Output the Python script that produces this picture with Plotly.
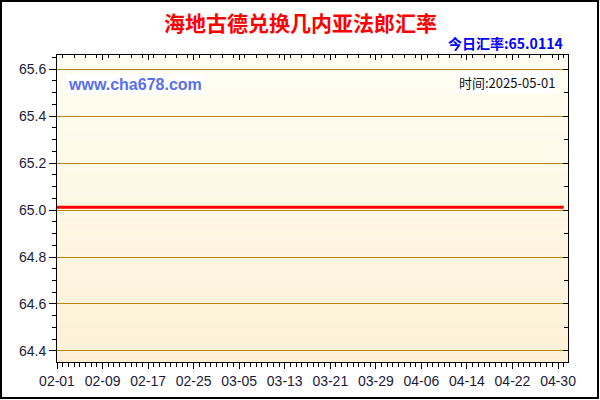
import plotly.graph_objects as go

# exchange rate data (flat over the period)
dates = ["2025-02-01", "2025-05-01"]
rates = [65.0114, 65.0114]

title_text = "海地古德兑换几内亚法郎汇率"
today_text = "今日汇率:65.0114"
site_text = "www.cha678.com"
time_text = "时间:2025-05-01"

W, H = 600, 400
L, R, T, B = 57, 32, 55, 38
pw, ph = W - L - R, H - T - B

fig = go.Figure()

fig.add_trace(go.Scatter(
    x=dates, y=rates, mode="lines",
    line=dict(color="#ff0000", width=3),
    hoverinfo="skip", showlegend=False,
))
# dummy trace so the mirrored axes get drawn
fig.add_trace(go.Scatter(
    x=dates, y=rates, mode="lines", xaxis="x2", yaxis="y2",
    line=dict(color="rgba(0,0,0,0)", width=0),
    hoverinfo="skip", showlegend=False,
))

# vertical gradient background, ivory to light tan
top_c = (255, 254, 242)
bot_c = (253, 240, 214)
n = 40
shapes = []
for i in range(n):
    f = i / (n - 1)
    c = tuple(round(bot_c[k] + (top_c[k] - bot_c[k]) * f) for k in range(3))
    shapes.append(dict(
        type="rect", xref="paper", yref="paper",
        x0=0, x1=1, y0=i / n, y1=(i + 1) / n,
        fillcolor="rgb(%d,%d,%d)" % c, line=dict(width=0), layer="below",
    ))
# outer frame of the image
shapes.append(dict(
    type="rect", xref="paper", yref="paper",
    x0=-(L - 1) / pw, x1=1 + (R - 2) / pw,
    y0=-(B - 2) / ph, y1=1 + (T - 1) / ph,
    line=dict(color="black", width=2), layer="above",
))

day = 86400000
tick_font = dict(family="Liberation Sans, Arial", size=14, color="#1a1a3a")

fig.update_layout(
    width=W, height=H,
    margin=dict(l=L, r=R, t=T, b=B),
    paper_bgcolor="white",
    plot_bgcolor="rgba(0,0,0,0)",
    shapes=shapes,
    xaxis=dict(
        type="date",
        range=["2025-02-01", "2025-05-01 18:00"],
        tick0="2025-02-01", dtick=8 * day, tickformat="%m-%d",
        showgrid=False, zeroline=False,
        showline=True, linecolor="black", linewidth=1,
        ticks="outside", ticklen=6, tickcolor="black",
        minor=dict(dtick=day, ticks="outside", ticklen=4, tickcolor="black"),
        tickfont=tick_font,
    ),
    yaxis=dict(
        range=[64.353, 65.66],
        tick0=64.4, dtick=0.2, tickformat=".1f",
        showgrid=True, gridcolor="#b8860b", gridwidth=1,
        zeroline=False,
        showline=True, linecolor="black", linewidth=1,
        ticks="outside", ticklen=7, tickcolor="black",
        minor=dict(dtick=0.05, ticks="outside", ticklen=4, tickcolor="black"),
        tickfont=tick_font,
    ),
    xaxis2=dict(
        type="date", overlaying="x", side="top", anchor="y",
        range=["2025-02-01", "2025-05-01 18:00"],
        tick0="2025-02-01", dtick=8 * day,
        showticklabels=False, showgrid=False, zeroline=False,
        showline=True, linecolor="black", linewidth=1,
        ticks="inside", ticklen=5, tickcolor="black",
        minor=dict(dtick=day * 2, ticks="inside", ticklen=3, tickcolor="black"),
    ),
    yaxis2=dict(
        overlaying="y", side="right", anchor="x",
        range=[64.353, 65.66],
        tick0=64.4, dtick=0.2,
        showticklabels=False, showgrid=False, zeroline=False,
        showline=True, linecolor="black", linewidth=1,
        ticks="inside", ticklen=5, tickcolor="black",
        minor=dict(dtick=0.1, ticks="inside", ticklen=4, tickcolor="black"),
    ),
    annotations=[
        dict(
            text="<b>%s</b>" % title_text, xref="paper", yref="paper",
            x=0.5 - (L - R) / 2 / pw, y=1 + (T - 22) / ph,
            xanchor="center", yanchor="middle", showarrow=False,
            font=dict(family="Noto Sans CJK SC", size=21, color="#ff0000"),
        ),
        dict(
            text="<b>%s</b>" % today_text, xref="paper", yref="paper",
            x=1 - 3 / pw, y=1 + (T - 43) / ph,
            xanchor="right", yanchor="middle", showarrow=False,
            font=dict(family="Noto Sans CJK SC", size=14, color="#0000ff"),
        ),
        dict(
            text="<b>%s</b>" % site_text, xref="paper", yref="paper",
            x=(66 - L) / pw, y=1 - (84 - T) / ph,
            xanchor="left", yanchor="middle", showarrow=False,
            bgcolor="white", borderpad=1,
            font=dict(family="Liberation Sans, Arial", size=16, color="#5a6ef0"),
        ),
        dict(
            text=time_text, xref="paper", yref="paper",
            x=1 - 11 / pw, y=1 - (82 - T) / ph,
            xanchor="right", yanchor="middle", showarrow=False,
            bgcolor="white", borderpad=1,
            font=dict(family="Noto Sans CJK SC", size=13, color="#111111"),
        ),
    ],
)

fig.write_html("out.html", config={"displayModeBar": False},
               post_script="document.body.style.margin='0';")
